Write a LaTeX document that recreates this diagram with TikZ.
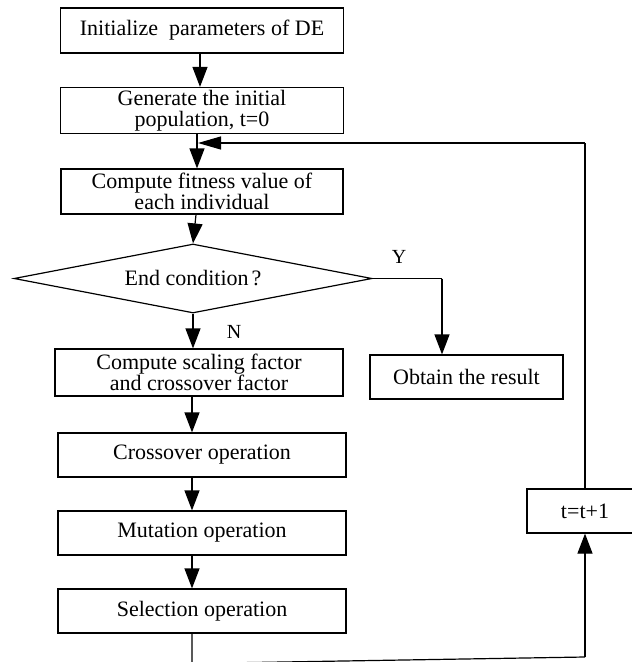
\documentclass[tikz,border=0pt]{standalone}
\usepackage{fontspec}
\setmainfont{Liberation Serif}
\usetikzlibrary{arrows.meta,shapes.geometric,calc}
\begin{document}
\begin{tikzpicture}[x=1pt,y=-1pt,
  every node/.style={font=\fontsize{22}{21}\selectfont},
  box/.style={draw,line width=1.2pt,inner sep=0pt,align=center},
  conn/.style={line width=1.2pt},
  arr/.style={line width=1.2pt,-{Triangle[length=20pt,width=15pt]}},
  harr/.style={line width=1.2pt,-{Triangle[length=23pt,width=13pt]}},
  lbl/.style={font=\fontsize{20}{20}\selectfont}]
\useasboundingbox (0,0) rectangle (632,662);
\node[box,minimum width=283pt,minimum height=45pt] (b1) at (202,30.5) {Initialize~ parameters of DE};
\node[box,minimum width=283pt,minimum height=46pt] (b2) at (202,110.5) {Generate the initial\\population, t=0};
\node[box,minimum width=282pt,minimum height=45pt] (b3) at (202,191.5) {Compute fitness value of\\each individual};
\node[diamond,draw,line width=1.2pt,inner sep=0pt,shape aspect=5.2,minimum width=358pt,minimum height=69pt] (d) at (193,278.5) {End condition\hspace{3pt}?};
\node[box,minimum width=288pt,minimum height=47pt] (b4) at (199,372.5) {Compute scaling factor\\and crossover factor};
\node[box,minimum width=193pt,minimum height=44pt] (ob) at (466.5,377) {Obtain the result};
\node[box,minimum width=288pt,minimum height=44pt] (b5) at (202,455) {Crossover operation};
\node[box,minimum width=288pt,minimum height=44pt] (b6) at (202,533) {Mutation operation};
\node[box,minimum width=288pt,minimum height=44pt] (b7) at (202,611) {Selection operation};
\node[box,minimum width=116pt,minimum height=44pt] (tb) at (585,511) {t=t+1};
\node[lbl] (ly) at (399,257) {Y};
\node[lbl] (ln) at (234,332) {N};
\coordinate (fbtop) at (585,143);
\coordinate (fbtip) at (198,143);
\coordinate (yc) at (442,278.5);
\coordinate (bl) at (192,663.5);
\coordinate (br) at (585,657);
\draw[arr] ([xshift=-2pt]b1.south) -- ([xshift=-2pt]b1.south |- b2.north);
\draw[arr] ([xshift=-5pt]b2.south) -- ([xshift=-5pt]b2.south |- b3.north);
\draw[arr] ([xshift=-6pt]b3.south) -- (d.north);
\draw[arr] (d.south) -- (d.south |- b4.north);
\draw[arr] ([xshift=-7pt]b4.south) -- ([xshift=-7pt]b4.south |- b5.north);
\draw[arr] ([xshift=-10pt]b5.south) -- ([xshift=-10pt]b5.south |- b6.north);
\draw[arr] ([xshift=-10pt]b6.south) -- ([xshift=-10pt]b6.south |- b7.north);
\draw[conn] (d.east) -- (yc);
\draw[arr] (yc) -- (yc |- ob.north);
\draw[conn] (tb.north) -- (fbtop);
\draw[harr] (fbtop) -- (fbtip);
\draw[conn] ([xshift=-10pt]b7.south) -- (bl) -- (br);
\draw[arr] (br) -- (tb.south);
\end{tikzpicture}
\end{document}
